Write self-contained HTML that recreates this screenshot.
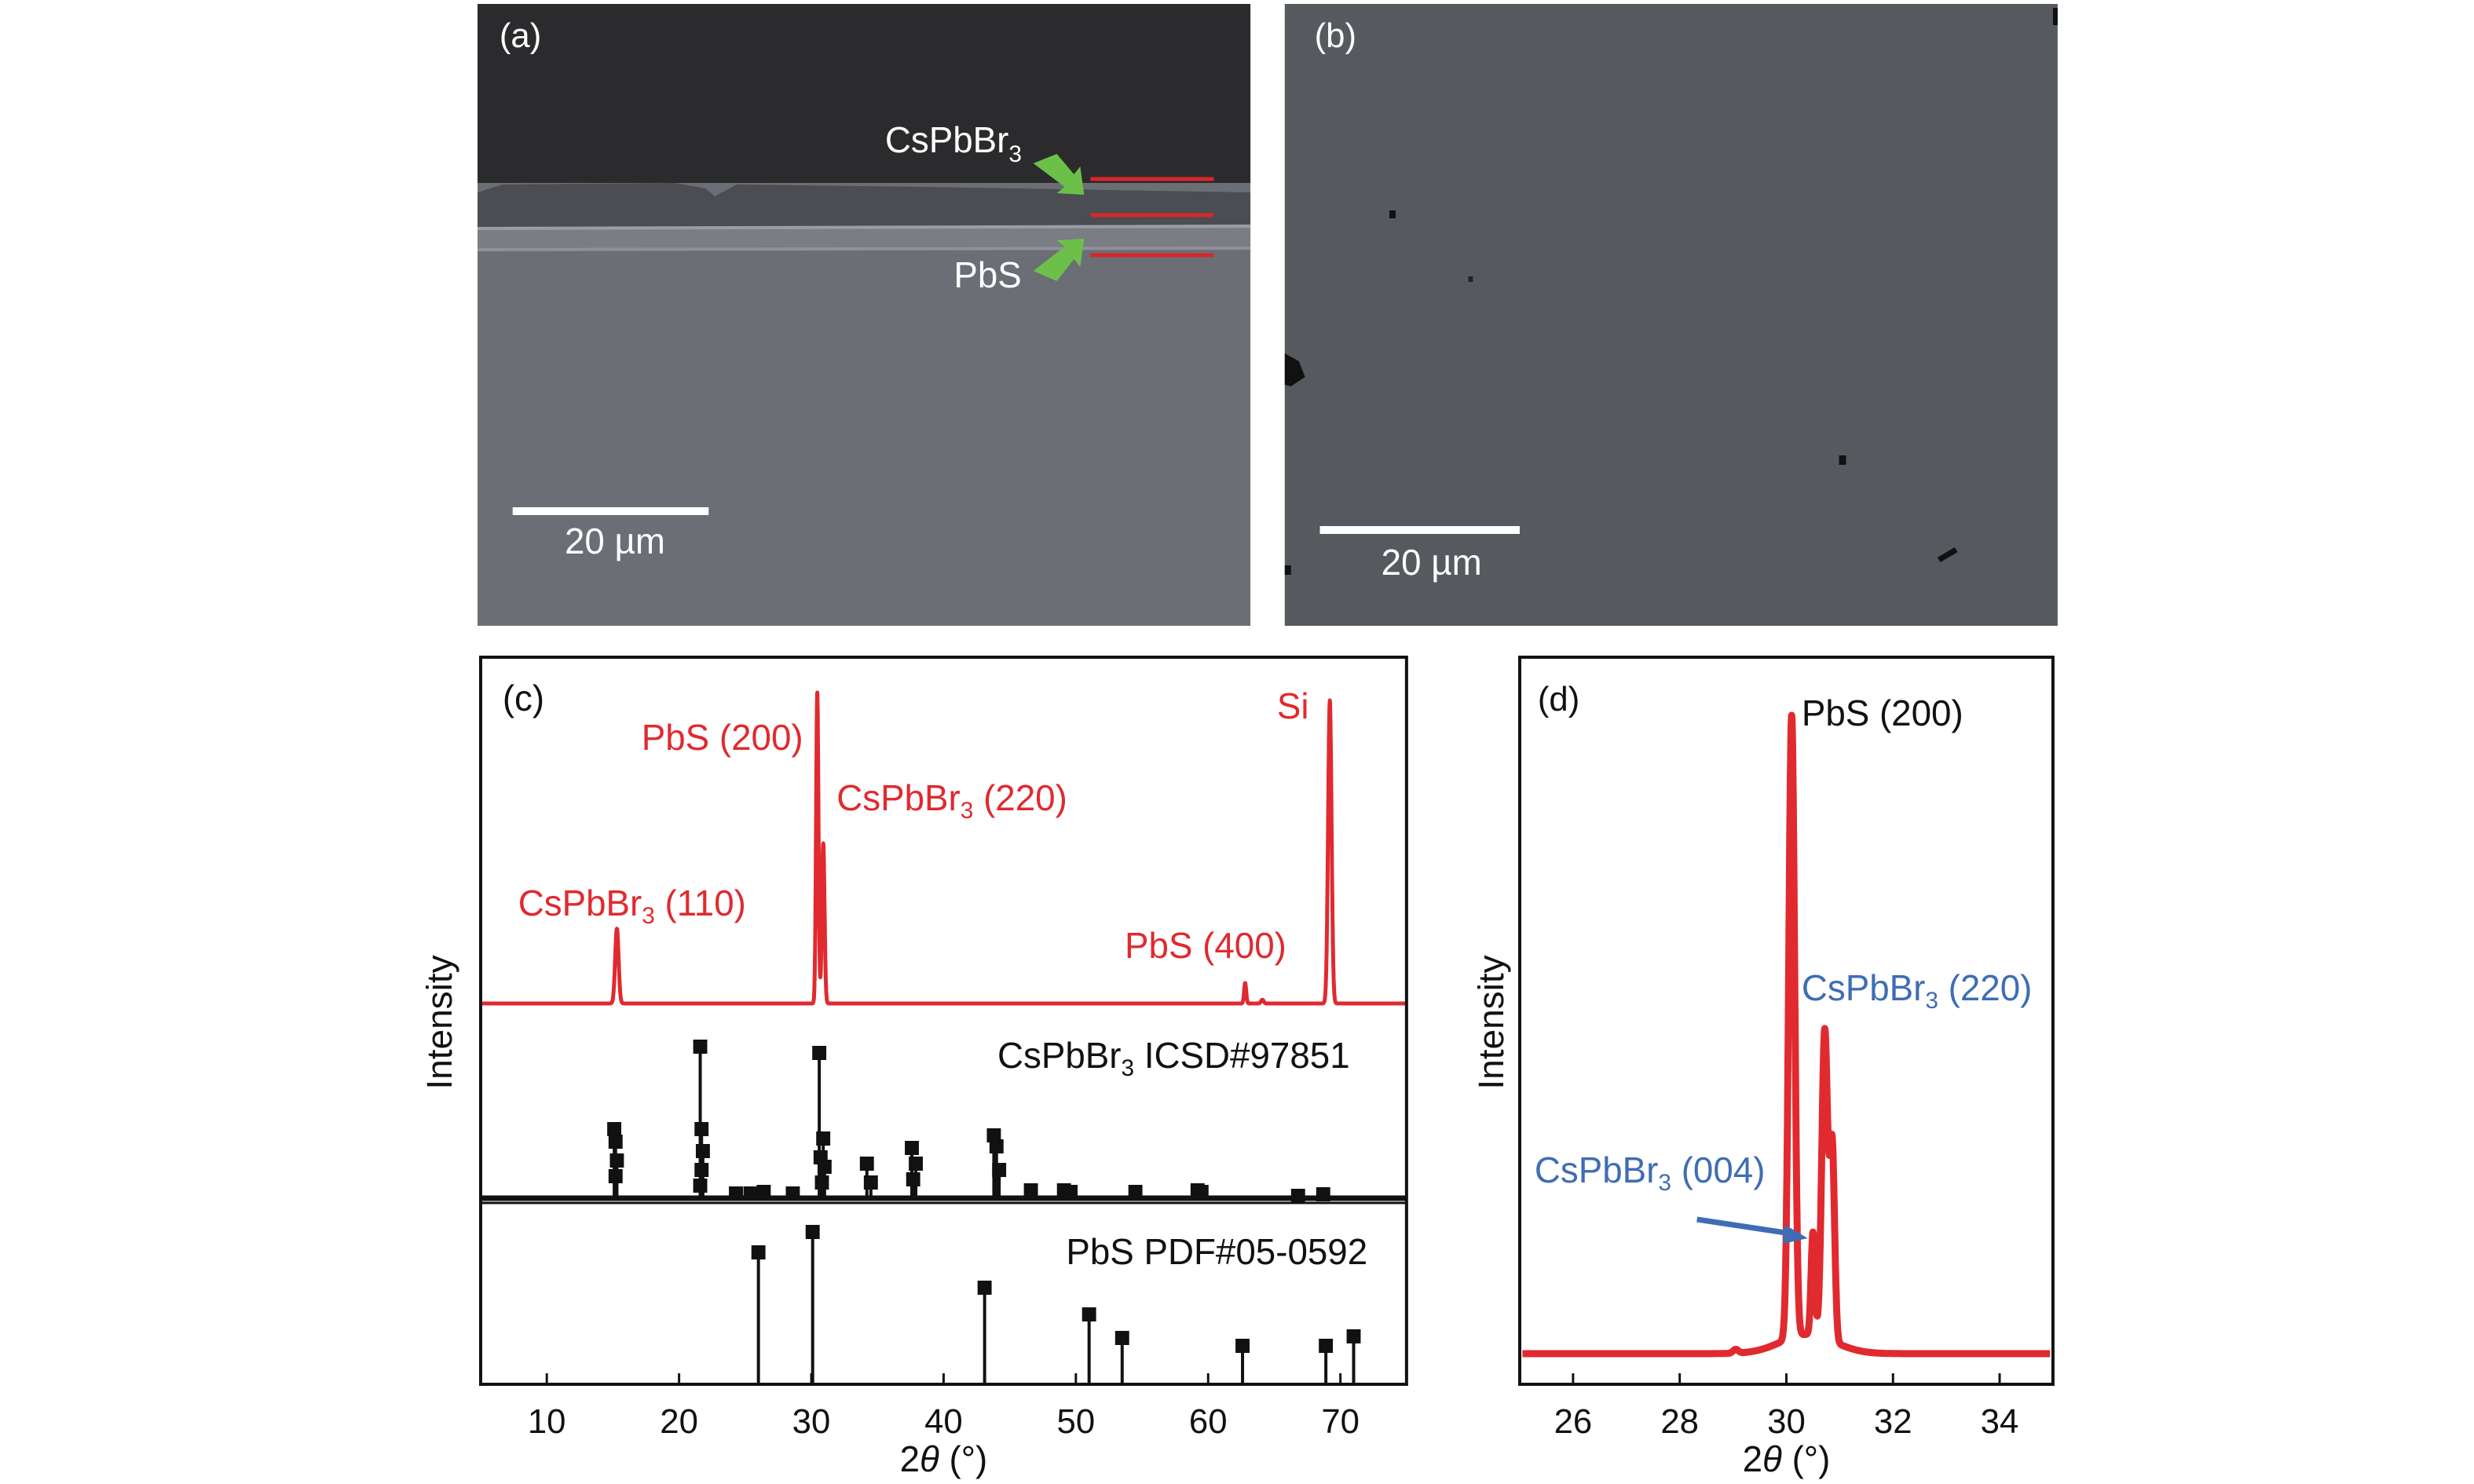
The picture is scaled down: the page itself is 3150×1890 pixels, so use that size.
<!DOCTYPE html>
<html><head><meta charset="utf-8">
<style>
html,body{margin:0;padding:0;background:#fff;}
svg{display:block;font-family:"Liberation Sans",sans-serif;}
</style></head>
<body>
<svg id="fig" width="3150" height="1890" viewBox="0 0 3150 1890" xmlns="http://www.w3.org/2000/svg">
<g transform="translate(610,0) scale(0.994,1) translate(-610,0)">
  <!-- Panel (a) -->
  <g>
    <rect x="608" y="5" width="990" height="792" fill="#6b6e74"/>
    <rect x="608" y="5" width="990" height="228" fill="#2b2b2d"/>
    <path d="M608,245 L640,235 L860,233 L900,240 L912,250 L940,235 L1180,238 L1598,245 L1598,288 L608,290 Z" fill="#4b4d52"/>
    <path d="M608,290 L1598,286 L1598,318 L608,318 Z" fill="#7a7d83"/>
    <line x1="608" y1="291" x2="1598" y2="288" stroke="#9a9da3" stroke-width="4"/>
    <line x1="608" y1="318" x2="1598" y2="316" stroke="#8e9197" stroke-width="4"/>
    <line x1="1393" y1="228" x2="1551" y2="228" stroke="#d9252a" stroke-width="5"/>
    <line x1="1393" y1="274" x2="1551" y2="274" stroke="#d9252a" stroke-width="5"/>
    <line x1="1393" y1="325" x2="1551" y2="325" stroke="#d9252a" stroke-width="5"/>
    <path d="M1320,208 L1350,196 L1372,222 L1380,212 L1385,248 L1350,246 L1360,238 Z" fill="#6cc04a"/>
    <path d="M1320,345 L1350,358 L1372,330 L1380,340 L1385,304 L1350,306 L1360,314 Z" fill="#6cc04a"/>
    <text x="1130" y="194" font-size="46" fill="#fff">CsPbBr<tspan font-size="30" dy="12">3</tspan></text>
    <text x="1218" y="366" font-size="46" fill="#fff">PbS</text>
    <rect x="653" y="646" width="251" height="10" fill="#fff"/>
    <text x="784" y="705" font-size="46" fill="#fff" text-anchor="middle">20 µm</text>
    <text x="636" y="60" font-size="44" fill="#fff">(a)</text>
  </g>
  <!-- Panel (b) -->
  <g>
    <rect x="1642" y="5" width="990" height="792" fill="#56595e"/>
    <rect x="1776" y="268" width="8" height="10" fill="#111"/>
    <rect x="1877" y="352" width="6" height="7" fill="#222"/>
    <path d="M1642,450 L1660,460 L1668,480 L1650,492 L1642,490 Z" fill="#111"/>
    <rect x="2352" y="580" width="9" height="12" fill="#111"/>
    <path d="M2478,710 L2500,697 L2504,703 L2482,716 Z" fill="#111"/>
    <rect x="1642" y="720" width="8" height="12" fill="#111"/>
    <rect x="2626" y="10" width="6" height="22" fill="#111"/>
    <rect x="1687" y="670" width="256" height="10" fill="#fff"/>
    <text x="1830" y="732" font-size="46" fill="#fff" text-anchor="middle">20 µm</text>
    <text x="1680" y="60" font-size="44" fill="#fff">(b)</text>
  </g>
  <g id="panelC"></g>
  <g id="panelD"></g>
</g>
</svg>
<script>
// ---------- Panel (c) data ----------
const cTicks = [10, 20, 30, 40, 50, 60, 70];
const cSamplePos = [15.3, 30.45, 30.9, 62.8, 64.1, 69.2];
const cSampleInt = [23.8, 99, 51, 6.5, 1.2, 96.5];
const cSampleWid = [0.13, 0.09, 0.1, 0.08, 0.1, 0.13];
const icsdPos = [15.1, 15.2, 15.3, 15.2, 21.6, 21.7, 21.8, 21.7, 21.6, 24.3, 25.4, 26.4, 28.6, 30.6, 30.9, 30.7, 31.0, 30.8, 34.2, 34.5, 37.6, 37.9, 37.7, 43.8, 44.0, 44.2, 46.6, 49.1, 49.6, 54.5, 59.2, 59.5, 66.8, 68.7];
const icsdInt = [44, 36, 24, 14, 96.5, 44, 30, 18, 8, 3, 3, 4, 3, 92.5, 38, 26, 20, 10, 22, 10, 32, 22, 12, 40, 33, 18, 5, 5, 4, 4, 5, 4, 1.5, 2.5];
const pbsPos = [26.0, 30.1, 43.1, 51.0, 53.5, 62.6, 68.9, 71.0];
const pbsInt = [84, 97, 61.5, 44.5, 29.5, 24.5, 24.5, 30.5];
// ---------- Panel (d) data ----------
const dTicks = [26, 28, 30, 32, 34];
const dPeakPos = [30.1, 30.5, 30.72, 30.86, 30.4, 29.05];
const dPeakInt = [97, 16, 48, 30, 3, 0.6];
const dPeakWid = [0.055, 0.035, 0.055, 0.045, 0.5, 0.05];

const NS = "http://www.w3.org/2000/svg";
function el(tag, attrs, parent) {
  const e = document.createElementNS(NS, tag);
  for (const k in attrs) e.setAttribute(k, attrs[k]);
  parent.appendChild(e);
  return e;
}
function profile(x, pos, inten, wid) {
  let s = 0;
  for (let i = 0; i < pos.length; i++) {
    const d = (x - pos[i]) / wid[i];
    s += inten[i] * Math.exp(-0.5 * d * d);
  }
  return s;
}

// ----- Panel C -----
(function () {
  const g = document.getElementById('panelC');
  const L = 612, R = 1798, T = 837, B = 1763;
  const xs = v => L + (v - 5) / 70 * (R - L);
  const ySample = v => 1278 - v * 4.0;
  const yIcsd = v => 1526 - v * 2.0;
  const yPbs = v => 1763 - v * 2.0;

  let d = "";
  for (let x = 5.1; x <= 74.9; x += 0.01) {
    const v = profile(x, cSamplePos, cSampleInt, cSampleWid);
    d += (d ? "L" : "M") + xs(x).toFixed(1) + "," + ySample(v).toFixed(1);
  }
  const p = el('path', {d: d, fill: 'none', stroke: '#e02a2f', 'stroke-width': 5, 'stroke-linejoin': 'round'}, g);
  
  

  const bl = el('line', {x1: L, y1: 1526, x2: R, y2: 1526, stroke: '#111', 'stroke-width': 7}, g);
  
  
  for (let i = 0; i < icsdPos.length; i++) {
    const x = xs(icsdPos[i]), y = yIcsd(icsdInt[i]);
    const s = el('line', {x1: x, y1: 1526, x2: x, y2: y, stroke: '#111', 'stroke-width': 4}, g);
    
    
    const m = el('rect', {x: x - 9, y: y - 9, width: 18, height: 18, fill: '#111'}, g);
    
    
  }
  const dv = el('line', {x1: L, y1: 1532, x2: R, y2: 1532, stroke: '#111', 'stroke-width': 3}, g);
  
  

  for (let i = 0; i < pbsPos.length; i++) {
    const x = xs(pbsPos[i]), y = yPbs(pbsInt[i]);
    const s = el('line', {x1: x, y1: B, x2: x, y2: y, stroke: '#111', 'stroke-width': 4}, g);
    
    
    const m = el('rect', {x: x - 9, y: y - 9, width: 18, height: 18, fill: '#111'}, g);
    
    
  }

  const fr = el('rect', {x: L, y: T, width: R - L, height: B - T, fill: 'none', stroke: '#111', 'stroke-width': 4}, g);
  
  

  for (const t of cTicks) {
    const x = xs(t);
    const tk = el('line', {x1: x, y1: B, x2: x, y2: B - 14, stroke: '#111', 'stroke-width': 3}, g);
    
    
    const tl = el('text', {x: x, y: B + 62, 'font-size': 44, 'text-anchor': 'middle', fill: '#111'}, g);
    tl.textContent = t;
    
    
  }
  const xt = el('text', {x: (L + R) / 2, y: 1874, 'font-size': 46, 'text-anchor': 'middle', fill: '#111'}, g);
  xt.innerHTML = '2<tspan font-style="italic">θ</tspan> (°)';
  
  
  const yt = el('text', {x: 0, y: 0, 'font-size': 46, 'text-anchor': 'middle', fill: '#111', transform: 'translate(575,1302) rotate(-90)'}, g);
  yt.textContent = 'Intensity';
  
  

  const labels = [
    ['(c)', 640, 905, '#111', 'panel-label-c', 'start'],
    ['PbS (200)', 818, 955, '#e02a2f', 'label-pbs-200', 'start'],
    ['Si', 1632, 915, '#e02a2f', 'label-si', 'start'],
    ['PbS (400)', 1437, 1220, '#e02a2f', 'label-pbs-400', 'start']
  ];
  for (const l of labels) {
    const t = el('text', {x: l[1], y: l[2], 'font-size': 46, fill: l[3], 'text-anchor': l[5]}, g);
    t.textContent = l[0];
    
    
  }
  const sub = [
    ['CsPbBr', '3', ' (220)', 1068, 1032, '#e02a2f', 'label-cspbbr3-220'],
    ['CsPbBr', '3', ' (110)', 660, 1166, '#e02a2f', 'label-cspbbr3-110'],
    ['CsPbBr', '3', ' ICSD#97851', 1274, 1360, '#111', 'label-icsd'],
  ];
  for (const s of sub) {
    const t = el('text', {x: s[3], y: s[4], 'font-size': 46, fill: s[5]}, g);
    t.innerHTML = s[0] + '<tspan font-size="30" dy="10">' + s[1] + '</tspan><tspan dy="-10">' + s[2] + '</tspan>';
    
    
  }
  const pl = el('text', {x: 1748, y: 1610, 'font-size': 46, fill: '#111', 'text-anchor': 'end'}, g);
  pl.textContent = 'PbS PDF#05-0592';
  
  
})();

// ----- Panel D -----
(function () {
  const g = document.getElementById('panelD');
  const L = 1943, R = 2626, T = 837, B = 1763;
  const xs = v => L + (v - 25) / 10 * (R - L);
  const ys = v => 1724 - v * 8.17;
  let d = "";
  for (let x = 25.05; x <= 34.95; x += 0.005) {
    const v = profile(x, dPeakPos, dPeakInt, dPeakWid);
    d += (d ? "L" : "M") + xs(x).toFixed(1) + "," + ys(v).toFixed(1);
  }
  const p = el('path', {d: d, fill: 'none', stroke: '#e02a2f', 'stroke-width': 9, 'stroke-linejoin': 'round'}, g);
  
  

  const fr = el('rect', {x: L, y: T, width: R - L, height: B - T, fill: 'none', stroke: '#111', 'stroke-width': 4}, g);
  
  
  for (const t of dTicks) {
    const x = xs(t);
    const tk = el('line', {x1: x, y1: B, x2: x, y2: B - 14, stroke: '#111', 'stroke-width': 3}, g);
    
    
    const tl = el('text', {x: x, y: B + 62, 'font-size': 44, 'text-anchor': 'middle', fill: '#111'}, g);
    tl.textContent = t;
    
    
  }
  const xt = el('text', {x: (L + R) / 2, y: 1874, 'font-size': 46, 'text-anchor': 'middle', fill: '#111'}, g);
  xt.innerHTML = '2<tspan font-style="italic">θ</tspan> (°)';
  
  
  const yt = el('text', {x: 0, y: 0, 'font-size': 46, 'text-anchor': 'middle', fill: '#111', transform: 'translate(1922,1302) rotate(-90)'}, g);
  yt.textContent = 'Intensity';
  
  

  const a = el('text', {x: 1966, y: 905, 'font-size': 44, fill: '#111'}, g);
  a.textContent = '(d)';
  
  
  const b = el('text', {x: 2304, y: 924, 'font-size': 46, fill: '#111'}, g);
  b.textContent = 'PbS (200)';
  
  
  const c1 = el('text', {x: 2304, y: 1274, 'font-size': 46, fill: '#3f6db5'}, g);
  c1.innerHTML = 'CsPbBr<tspan font-size="30" dy="10">3</tspan><tspan dy="-10"> (220)</tspan>';
  
  
  const c2 = el('text', {x: 1962, y: 1506, 'font-size': 46, fill: '#3f6db5'}, g);
  c2.innerHTML = 'CsPbBr<tspan font-size="30" dy="10">3</tspan><tspan dy="-10"> (004)</tspan>';
  
  
  const ar = el('line', {x1: 2170, y1: 1553, x2: 2290, y2: 1571, stroke: '#3f6db5', 'stroke-width': 7}, g);
  
  
  const ah = el('path', {d: 'M2312,1577 L2283,1560 L2280,1584 Z', fill: '#3f6db5'}, g);
  
  
})();
</script>
</body></html>
